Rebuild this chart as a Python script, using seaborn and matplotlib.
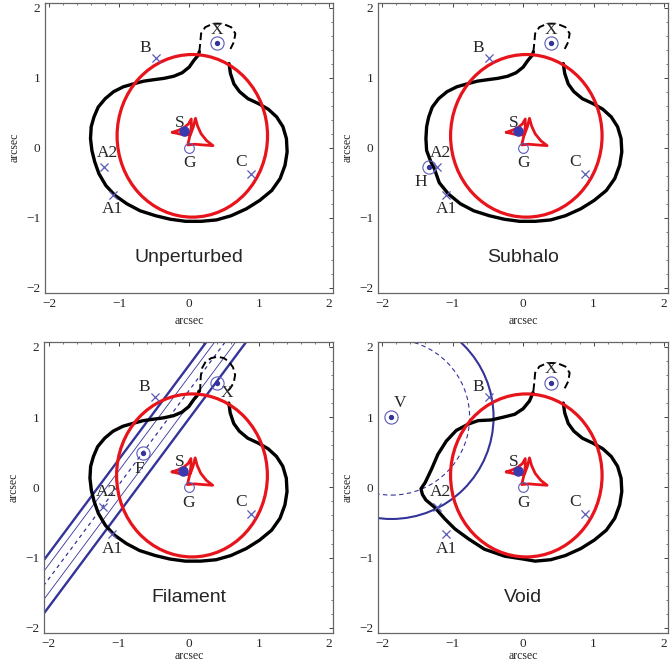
import numpy as np
import matplotlib
matplotlib.use("Agg")
import matplotlib.pyplot as plt
from matplotlib.patches import Ellipse, Circle
import seaborn as sns

sns.set_theme(style="white")
plt.rcParams["font.family"] = ["Liberation Serif", "DejaVu Serif"]
plt.rcParams["axes.unicode_minus"] = True

panel_names = ["Unperturbed", "Subhalo", "Filament", "Void"]

# lensed images (crosses)
img_names = ["A1", "A2", "B", "C"]
img_x = [-1.09, -1.22, -0.48, 0.88]
img_y = [-0.67, -0.28, 1.28, -0.38]

# source S, galaxy G, object X
src_x, src_y = -0.08, 0.24
gal_x, gal_y = 0.0, 0.0
objx_x, objx_y = 0.40, 1.49

# perturbers
halo_x, halo_y = -1.33, -0.28
fil_x, fil_y = -0.66, 0.49
fil_slope = 1.34
fil_offsets = [-0.40, -0.20, 0.0, 0.20, 0.36]
void_x, void_y = -1.87, 1.00
void_r_outer = 1.45
void_r_inner = 1.11

# outer caustic (ellipse): centre, width, height
caus_cx, caus_cy = 0.045, 0.17
caus_w, caus_h = 2.15, 2.32

# inner caustic
inner_x = [-0.24, -0.15, -0.07, -0.01, 0.03, 0.03, 0.01, -0.02, 0.08, 0.20, 0.34,
           0.25, 0.17, 0.12, 0.09, 0.06, 0.02, -0.06, -0.15, -0.24]
inner_y = [0.22, 0.25, 0.29, 0.34, 0.41, 0.30, 0.17, 0.04, 0.05, 0.04, 0.03,
           0.10, 0.20, 0.31, 0.42, 0.30, 0.19, 0.18, 0.20, 0.22]

# critical curve, unperturbed (solid part)
crit_x = [0.145, 0.13, 0.07, 0.00, -0.10, -0.22, -0.36, -0.51, -0.65, -0.80, -0.94,
          -1.08, -1.20, -1.30, -1.36, -1.40, -1.41, -1.39, -1.35, -1.29, -1.19, -1.06,
          -0.89, -0.70, -0.48, -0.27, -0.05, 0.17, 0.39, 0.60, 0.82, 1.01, 1.18, 1.30,
          1.37, 1.40, 1.39, 1.34, 1.25, 1.13, 0.99, 0.84, 0.72, 0.64, 0.59, 0.57]
crit_y = [1.37, 1.32, 1.25, 1.15, 1.07, 1.02, 0.99, 0.97, 0.95, 0.91, 0.87,
          0.80, 0.70, 0.58, 0.44, 0.30, 0.13, -0.04, -0.20, -0.37, -0.54, -0.68,
          -0.80, -0.90, -0.97, -1.02, -1.05, -1.05, -1.03, -0.97, -0.87, -0.75, -0.61, -0.44,
          -0.25, -0.06, 0.13, 0.30, 0.44, 0.55, 0.63, 0.70, 0.80, 0.91, 1.06, 1.20]

# subhalo: left side pushed by H
sub_x = [0.145, 0.13, 0.07, 0.00, -0.10, -0.22, -0.36, -0.51, -0.65, -0.80, -0.94,
         -1.08, -1.20, -1.29, -1.34, -1.37, -1.38, -1.37, -1.31, -1.26, -1.19, -1.06,
         -0.89, -0.70, -0.48, -0.27, -0.05, 0.17, 0.39, 0.60, 0.82, 1.01, 1.18, 1.30,
         1.37, 1.40, 1.39, 1.34, 1.25, 1.13, 0.99, 0.84, 0.72, 0.64, 0.59, 0.57]
sub_y = [1.37, 1.32, 1.25, 1.15, 1.07, 1.02, 0.99, 0.97, 0.95, 0.91, 0.87,
         0.80, 0.70, 0.58, 0.44, 0.30, 0.13, -0.04, -0.20, -0.30, -0.50, -0.66,
         -0.80, -0.90, -0.97, -1.02, -1.05, -1.05, -1.03, -0.97, -0.87, -0.75, -0.61, -0.44,
         -0.25, -0.06, 0.13, 0.30, 0.44, 0.55, 0.63, 0.70, 0.80, 0.91, 1.06, 1.20]

# void: upper-left branch bends to a corner at (-1.45, -0.02)
void_cx = [0.14, 0.09, 0.00, -0.12, -0.28, -0.45, -0.64, -0.78, -0.95, -1.09, -1.21,
           -1.30, -1.39, -1.45, -1.43, -1.38, -1.26, -1.11, -0.97, -0.78, -0.55, -0.26,
           0.00, 0.17, 0.39, 0.60, 0.82, 1.01, 1.18, 1.30, 1.37, 1.40, 1.39, 1.34, 1.25,
           1.13, 0.99, 0.84, 0.72, 0.64, 0.59, 0.57]
void_cy = [1.35, 1.23, 1.12, 1.04, 1.00, 0.96, 0.95, 0.90, 0.81, 0.66, 0.47,
           0.26, 0.07, -0.02, -0.10, -0.18, -0.28, -0.45, -0.59, -0.73, -0.88, -0.98,
           -1.02, -1.05, -1.03, -0.97, -0.87, -0.75, -0.61, -0.44, -0.25, -0.06, 0.13, 0.30, 0.44,
           0.55, 0.63, 0.70, 0.80, 0.91, 1.06, 1.20]

# dashed loops round X
loop_x = [0.145, 0.16, 0.17, 0.23, 0.34, 0.48, 0.60, 0.66, 0.64, 0.59]
loop_y = [1.37, 1.51, 1.63, 1.72, 1.77, 1.77, 1.72, 1.63, 1.51, 1.41]
fil_loop_x = [0.16, 0.17, 0.19, 0.24, 0.32, 0.41, 0.50, 0.57, 0.63, 0.66, 0.64, 0.59, 0.53]
fil_loop_y = [1.36, 1.58, 1.70, 1.79, 1.84, 1.86, 1.84, 1.79, 1.71, 1.60, 1.49, 1.41, 1.35]

# label offsets (data units)
lab_off = {"A1": (0.0, -0.21), "A2": (0.05, 0.21), "B": (-0.15, 0.15), "C": (-0.14, 0.17)}

BLUE = "#33339a"
XBLUE = "#5a5ab8"
RED = "#e8141c"
FS = 12.5


def ringdot(ax, x, y):
    ax.plot(x, y, "o", ms=9.5, mfc="none", mec=XBLUE, mew=0.8, zorder=6)
    ax.plot(x, y, "o", ms=2.8, color=BLUE, zorder=6)


def base(ax, name, cx, cy, lx, ly, xpad):
    ax.set_xlim(-2.06, 2.06)
    ax.set_ylim(-2.07, 2.07)
    ax.set_aspect("auto")
    # critical curve
    sns.lineplot(x=cx, y=cy, sort=False, estimator=None, color="black", lw=2.4, ax=ax, zorder=3)
    ax.plot(lx, ly, color="black", lw=1.4, ls=(0, (4, 2)), zorder=3)
    # caustics
    ax.add_patch(Ellipse((caus_cx, caus_cy), caus_w, caus_h, fill=False, ec=RED, lw=2.3, zorder=4))
    ax.plot(inner_x, inner_y, color=RED, lw=2.0, zorder=4)
    # images
    sns.scatterplot(x=img_x, y=img_y, marker="x", s=34, color=XBLUE, linewidth=0.9, ax=ax, zorder=5)
    for n, xx, yy in zip(img_names, img_x, img_y):
        dx, dy = lab_off[n]
        ax.text(xx + dx, yy + dy, n, ha="center", va="center", fontsize=FS)
    ax.plot(gal_x, gal_y, "o", ms=7, mfc="none", mec=XBLUE, mew=0.8, zorder=5)
    ax.text(gal_x, gal_y - 0.22, "G", ha="center", va="center", fontsize=FS)
    ax.plot(src_x, src_y, "o", ms=6.5, color="#3a3ab0", zorder=6)
    ax.text(src_x - 0.05, src_y + 0.12, "S", ha="center", va="center", fontsize=FS)
    ringdot(ax, objx_x, objx_y)
    ax.text(0, -1.57, name, ha="center", va="center", fontsize=14, family="Liberation Sans")
    ax.set_xticks([-2, -1, 0, 1, 2])
    ax.set_yticks([-2, -1, 0, 1, 2])
    ax.set_xticks(np.arange(-2, 2.01, 0.2), minor=True)
    ax.set_yticks(np.arange(-2, 2.01, 0.2), minor=True)
    ax.tick_params(which="both", direction="in", top=True, right=True, labelsize=9.5,
                   color="#444444", pad=3.5)
    ax.tick_params(which="major", length=3, width=0.7)
    ax.tick_params(which="minor", length=1.5, width=0.5)
    ax.set_xlabel("arcsec", fontsize=8.5, labelpad=xpad)
    ax.set_ylabel("arcsec", fontsize=8.5, labelpad=4)
    for s in ax.spines.values():
        s.set_color("#666666")
        s.set_linewidth(0.9)


fig = plt.figure(figsize=(6.72, 6.64), dpi=100)
ax1 = fig.add_axes([0.067, 0.559, 0.429, 0.437])
ax2 = fig.add_axes([0.5625, 0.559, 0.432, 0.437])
ax3 = fig.add_axes([0.066, 0.047, 0.430, 0.438])
ax4 = fig.add_axes([0.5625, 0.047, 0.432, 0.438])

base(ax1, panel_names[0], crit_x, crit_y, loop_x, loop_y, 4)
ax1.text(objx_x, objx_y + 0.19, "X", ha="center", va="center", fontsize=FS)

base(ax2, panel_names[1], sub_x, sub_y, loop_x, loop_y, 4)
ax2.text(objx_x, objx_y + 0.19, "X", ha="center", va="center", fontsize=FS)
ringdot(ax2, halo_x, halo_y)
ax2.text(halo_x - 0.12, halo_y - 0.21, "H", ha="center", va="center", fontsize=FS)

base(ax3, panel_names[2], crit_x, crit_y, fil_loop_x, fil_loop_y, 0.5)
ax3.text(objx_x + 0.14, objx_y - 0.14, "X", ha="center", va="center", fontsize=FS)
xs = np.array([-2.2, 2.2])
for off in fil_offsets:
    ys = fil_y + fil_slope * (xs - fil_x) + off
    if off == 0.0:
        ax3.plot(xs, ys, color=BLUE, lw=0.9, ls=(0, (3, 3)), zorder=2)
    elif abs(off) > 0.3:
        ax3.plot(xs, ys, color=BLUE, lw=1.7, zorder=2)
    else:
        ax3.plot(xs, ys, color=BLUE, lw=0.6, zorder=2)
ringdot(ax3, fil_x, fil_y)
ax3.text(fil_x - 0.05, fil_y - 0.23, "F", ha="center", va="center", fontsize=FS)

base(ax4, panel_names[3], void_cx, void_cy, loop_x, loop_y, 0.5)
ax4.text(objx_x, objx_y + 0.19, "X", ha="center", va="center", fontsize=FS)
ax4.add_patch(Circle((void_x, void_y), void_r_outer, fill=False, ec=BLUE, lw=1.5, zorder=2))
ax4.add_patch(Circle((void_x, void_y), void_r_inner, fill=False, ec=BLUE, lw=0.8,
                     ls=(0, (4, 3)), zorder=2))
ringdot(ax4, void_x, void_y)
ax4.text(void_x + 0.12, void_y + 0.2, "V", ha="center", va="center", fontsize=FS)

fig.savefig("out.png", dpi=100)
